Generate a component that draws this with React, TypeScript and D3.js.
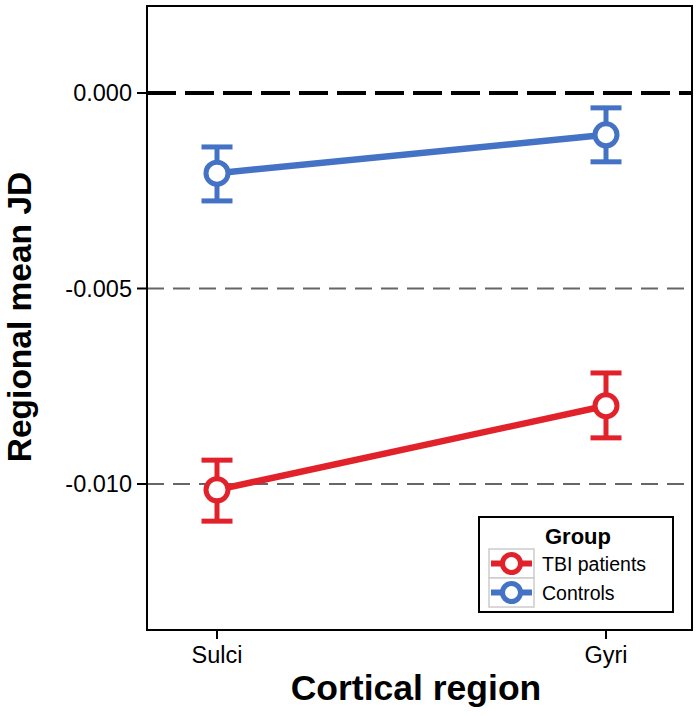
import React from "react";
import * as d3 from "d3";

const regions = ["Sulci", "Gyri"];
const groups = ["TBI patients", "Controls"];
const groupColors = ["#e2222a", "#4472c4"];
const tbiMean = [-0.01015, -0.0080];
const tbiLow = [-0.01095, -0.00882];
const tbiHigh = [-0.00939, -0.00716];
const ctlMean = [-0.00205, -0.00107];
const ctlLow = [-0.00276, -0.00176];
const ctlHigh = [-0.00138, -0.00038];
const yTicks = [0, -0.005, -0.01];
const yTickLabels = ["0.000", "-0.005", "-0.010"];

const series = [
  { name: groups[0], color: groupColors[0], mean: tbiMean, low: tbiLow, high: tbiHigh },
  { name: groups[1], color: groupColors[1], mean: ctlMean, low: ctlLow, high: ctlHigh },
];

const FONT = "'Liberation Sans', Arial, Helvetica, sans-serif";

export default function App() {
  const W = 700, H = 716;
  const left = 147, right = 692, top = 6, bottom = 630;
  const y = d3.scaleLinear().domain([-0.013734, 0.002225]).range([bottom, top]);
  const x = d3.scalePoint().domain(regions).range([217, 606]);
  const line = d3.line<number>().x((_, i) => x(regions[i])!).y((d) => y(d));
  const capW = 31;

  return (
    <svg width={W} height={H} style={{ position: "absolute", left: 0, top: 0, background: "#fff" }}>
      {/* gridlines */}
      {yTicks.map((t, i) => (
        <line key={"g" + i} x1={left} x2={right} y1={y(t)} y2={y(t)}
          stroke={t === 0 ? "#000" : "#666"} strokeWidth={t === 0 ? 4 : 2.2}
          strokeDasharray={t === 0 ? "29,9" : "17,9"} />
      ))}
      {/* series */}
      {series.map((s, si) => (
        <g key={si}>
          <path d={line(s.mean)!} fill="none" stroke={s.color} strokeWidth={6.5} />
          {s.mean.map((m, i) => {
            const cx = x(regions[i])!;
            return (
              <g key={i}>
                <line x1={cx} x2={cx} y1={y(s.low[i])} y2={y(s.high[i])} stroke={s.color} strokeWidth={5} />
                <line x1={cx - capW / 2} x2={cx + capW / 2} y1={y(s.low[i])} y2={y(s.low[i])} stroke={s.color} strokeWidth={5} />
                <line x1={cx - capW / 2} x2={cx + capW / 2} y1={y(s.high[i])} y2={y(s.high[i])} stroke={s.color} strokeWidth={5} />
                <circle cx={cx} cy={y(m)} r={11} fill="#fff" stroke={s.color} strokeWidth={5} />
              </g>
            );
          })}
        </g>
      ))}
      {/* frame */}
      <rect x={left} y={top} width={right - left} height={bottom - top} fill="none" stroke="#000" strokeWidth={2} />
      {/* y axis ticks */}
      {yTicks.map((t, i) => (
        <g key={"yt" + i}>
          <line x1={left - 10} x2={left} y1={y(t)} y2={y(t)} stroke="#000" strokeWidth={2} />
          <text x={left - 15} y={y(t)} dy="0.36em" textAnchor="end" fontFamily={FONT} fontSize={23.5}>{yTickLabels[i]}</text>
        </g>
      ))}
      {/* x axis ticks */}
      {regions.map((r) => (
        <g key={r}>
          <line x1={x(r)} x2={x(r)} y1={bottom} y2={bottom + 9} stroke="#000" strokeWidth={2} />
          <text x={x(r)} y={663} textAnchor="middle" fontFamily={FONT} fontSize={23.5}>{r}</text>
        </g>
      ))}
      {/* axis titles */}
      <text x={416} y={700} textAnchor="middle" fontFamily={FONT} fontSize={35.5} fontWeight="bold">Cortical region</text>
      <text transform={`translate(31,317) rotate(-90)`} textAnchor="middle" fontFamily={FONT} fontSize={33.5} fontWeight="bold">Regional mean JD</text>
      {/* legend */}
      <g>
        <rect x={479} y={517} width={194} height={95} fill="#fff" stroke="#000" strokeWidth={2} />
        <text x={578} y={544} textAnchor="middle" fontFamily={FONT} fontSize={22} fontWeight="bold">Group</text>
        {series.map((s, i) => {
          const ky = 549 + i * 29;
          const kx = 489;
          return (
            <g key={"l" + i}>
              <rect x={kx} y={ky} width={45} height={29} fill="#fff" stroke="#ccc" strokeWidth={1.5} />
              <line x1={kx + 2} x2={kx + 43} y1={ky + 14.5} y2={ky + 14.5} stroke={s.color} strokeWidth={6} />
              <circle cx={kx + 22.5} cy={ky + 14.5} r={9} fill="#fff" stroke={s.color} strokeWidth={5} />
              <text x={542} y={ky + 14.5} dy="0.36em" fontFamily={FONT} fontSize={19.5}>{s.name}</text>
            </g>
          );
        })}
      </g>
    </svg>
  );
}
